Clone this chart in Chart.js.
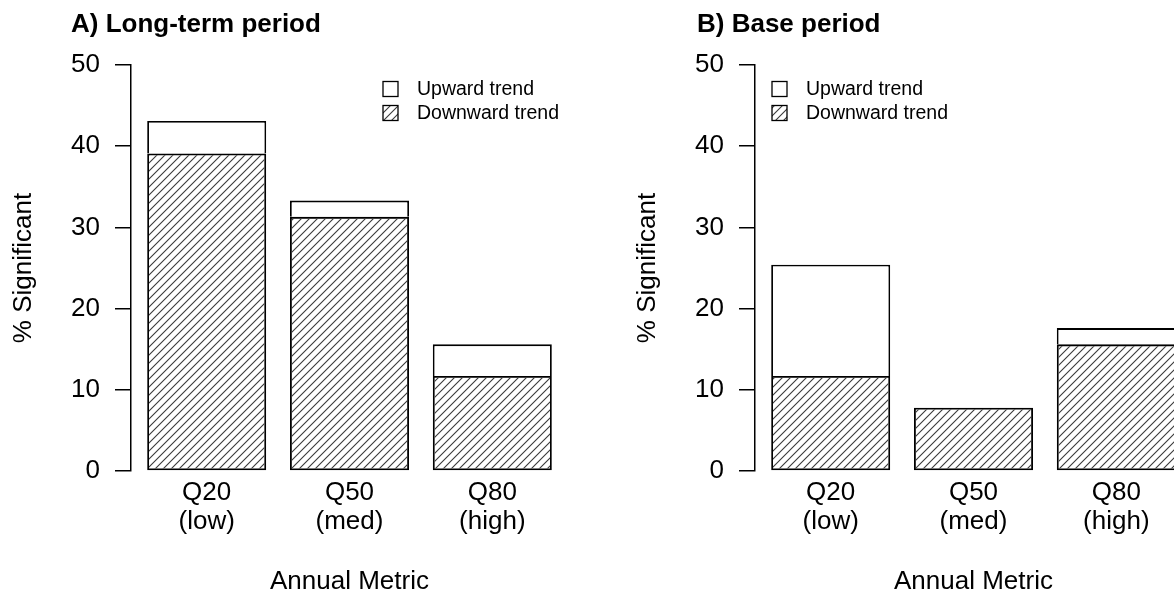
<!DOCTYPE html>
<html>
<head>
<meta charset="utf-8">
<script src="https://cdn.jsdelivr.net/npm/chart.js@4/dist/chart.umd.min.js"></script>
<style>
  html, body { margin: 0; width: 1174px; height: 597px; overflow: hidden; background: #fff; }
  canvas { position: absolute; top: 0; }
</style>
</head>
<body>
<canvas id="panelA" width="587" height="597" style="left:0px"></canvas>
<canvas id="panelB" width="587" height="597" style="left:624px"></canvas>
<script>
// values (% of sites with a significant trend)
const tickLabels = [['Q20', '(low)'], ['Q50', '(med)'], ['Q80', '(high)']];
const seriesNames = ['Upward trend', 'Downward trend'];

const longTermDown = [39.1, 31.3, 11.7];
const longTermUp = [4.0, 2.0, 3.9];

const baseDown = [11.7, 7.8, 15.6];
const baseUp = [13.7, 0, 2.0];

const yTicks = { min: 0, max: 50, step: 10 };

const FONT = '"Liberation Sans", Arial, sans-serif';
const BAR_WIDTH = 1;
const BAR_SPACE = 0.2;

const makeHatch = (ctx) => {
    const tile = document.createElement('canvas');
    tile.width = 8;
    tile.height = 8;
    const g = tile.getContext('2d');
    g.strokeStyle = '#3a3a3a';
    g.lineWidth = 1.1;
    g.beginPath();
    g.moveTo(0, 8); g.lineTo(8, 0);
    g.moveTo(-1, 1); g.lineTo(1, -1);
    g.moveTo(7, 9); g.lineTo(9, 7);
    g.stroke();
    return ctx.createPattern(tile, 'repeat');
};

// draws the panel title and the little legend like R's legend()
const decor = {
    id: 'decor',
    afterDraw(chart, args, opts) {
        const ctx = chart.ctx;
        ctx.save();
        ctx.fillStyle = '#000';
        ctx.font = 'bold 26px ' + FONT;
        ctx.textBaseline = 'alphabetic';
        ctx.textAlign = 'left';
        ctx.fillText(opts.title, opts.titleX, 32);

        const rows = [
            { name: seriesNames[0], fill: '#fff' },
            { name: seriesNames[1], fill: opts.hatch }
        ];
        ctx.font = '19.5px ' + FONT;
        ctx.textBaseline = 'middle';
        ctx.lineWidth = 1.3;
        rows.forEach((row, i) => {
            const cy = 89 + i * 24;
            ctx.fillStyle = row.fill;
            ctx.fillRect(opts.legendX, cy - 7.5, 15, 15);
            ctx.strokeStyle = '#000';
            ctx.strokeRect(opts.legendX, cy - 7.5, 15, 15);
            ctx.fillStyle = '#000';
            ctx.fillText(row.name, opts.legendX + 34, cy + 1);
        });
        ctx.restore();
    }
};

const makePanel = (id, title, titleX, legendX, down, up) => {
    const ctx = document.getElementById(id).getContext('2d');
    const hatch = makeHatch(ctx);
    const n = tickLabels.length;
    const xs = tickLabels.map((_, i) => BAR_SPACE + BAR_WIDTH / 2 + i * (BAR_WIDTH + BAR_SPACE));
    const lo = BAR_SPACE, hi = n * (BAR_WIDTH + BAR_SPACE);
    const ext = 0.04 * (hi - lo);

    const barStyle = {
        borderColor: '#000',
        borderWidth: 1.8,
        stack: 's',
        barPercentage: BAR_WIDTH / (BAR_WIDTH + BAR_SPACE),
        categoryPercentage: 1
    };

    new Chart(ctx, {
        type: 'bar',
        data: {
            datasets: [
                Object.assign({
                    label: seriesNames[1],
                    data: xs.map((x, i) => ({ x: x, y: down[i] })),
                    backgroundColor: hatch,
                    borderSkipped: false
                }, barStyle),
                Object.assign({
                    label: seriesNames[0],
                    data: xs.map((x, i) => ({ x: x, y: up[i] })),
                    backgroundColor: '#fff',
                    borderSkipped: 'bottom'
                }, barStyle)
            ]
        },
        options: {
            responsive: false,
            animation: false,
            devicePixelRatio: 1,
            layout: { padding: { top: 65, right: 19, bottom: 0, left: 0 } },
            plugins: {
                legend: { display: false },
                tooltip: { enabled: false },
                decor: { title: title, titleX: titleX, legendX: legendX, hatch: hatch }
            },
            scales: {
                x: {
                    type: 'linear',
                    min: lo - ext,
                    max: hi + ext,
                    stacked: true,
                    offset: false,
                    grid: { display: false, drawTicks: false },
                    border: { display: false },
                    afterBuildTicks: (scale) => {
                        scale.ticks = xs.map(v => ({ value: v }));
                    },
                    afterFit: (scale) => { scale.height = 126; },
                    ticks: {
                        autoSkip: false,
                        maxRotation: 0,
                        color: '#000',
                        padding: 7,
                        font: { family: FONT, size: 26, lineHeight: 1.13 },
                        callback: (value, index) => tickLabels[index]
                    },
                    title: {
                        display: true,
                        text: 'Annual Metric',
                        color: '#000',
                        padding: 0,
                        font: { family: FONT, size: 26 }
                    }
                },
                y: {
                    min: yTicks.min,
                    max: yTicks.max,
                    stacked: true,
                    afterFit: (scale) => { scale.width = 131; },
                    ticks: {
                        stepSize: yTicks.step,
                        color: '#000',
                        padding: 15,
                        font: { family: FONT, size: 26 }
                    },
                    grid: {
                        drawOnChartArea: false,
                        tickLength: 16,
                        color: '#000',
                        tickColor: '#000',
                        lineWidth: 1.5
                    },
                    border: { color: '#000', width: 1.5 },
                    title: {
                        display: true,
                        text: '% Significant',
                        color: '#000',
                        padding: { top: 8, bottom: 0 },
                        font: { family: FONT, size: 26 }
                    }
                }
            }
        },
        plugins: [decor]
    });
};

makePanel('panelA', 'A) Long-term period', 71, 383, longTermDown, longTermUp);
makePanel('panelB', 'B) Base period', 73, 148, baseDown, baseUp);
</script>
</body>
</html>
